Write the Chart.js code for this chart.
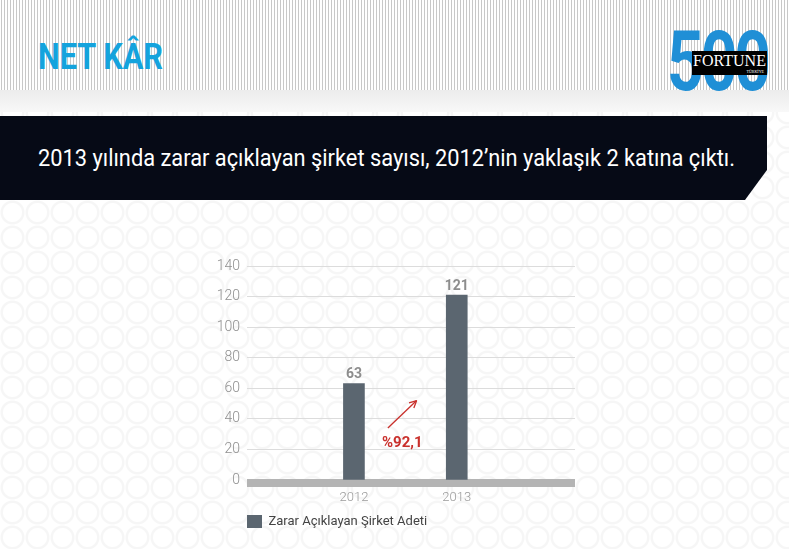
<!DOCTYPE html>
<html>
<head>
<meta charset="utf-8">
<script src="https://cdn.jsdelivr.net/npm/chart.js@4/dist/chart.umd.min.js"></script>
<style>
  html, body { margin: 0; padding: 0; }
  body {
    width: 789px; height: 549px; position: relative; overflow: hidden;
    background-color: #fff;
    background-image: radial-gradient(circle, rgba(0,0,0,0) 9px, #f6f6f6 10px, #f6f6f6 11.5px, rgba(0,0,0,0) 12.5px);
    background-size: 25px 25px;
    font-family: "Roboto", sans-serif;
  }
  #stripes {
    position: absolute; left: 0; top: 0; width: 789px; height: 90px;
    background: repeating-linear-gradient(90deg, #fff 0 1px, #c8c8c8 1px 2px, #fff 2px 3px);
  }
  #stripes2 {
    position: absolute; left: 0; top: 90px; width: 789px; height: 22px;
    background: linear-gradient(#ececec, #f8f8f8);
  }
  .fit { position: absolute; white-space: nowrap; transform-origin: 0 0; }
  #title { left: 38px; top: 36px; font: bold 36px "Roboto", sans-serif; color: #14a3dd; }
  #logoNum { left: 667px; top: 12px; font: bold 84px "Roboto", sans-serif; color: #1f8fd6; letter-spacing: -4px; }
  #logoBox {
    position: absolute; left: 692px; top: 51px; width: 75px; height: 24px; background: #000;
    color: #fff; font: 16px "Liberation Serif", serif; text-align: center; line-height: 20px;
  }
  #logoBox small { position: absolute; right: 3px; bottom: 1px; font-size: 4px; line-height: 5px; }
  #banner {
    position: absolute; left: 0; top: 116px; width: 767px; height: 84px; background: #060a16;
    clip-path: polygon(0 0, 767px 0, 767px 54px, 745px 84px, 0 84px);
  }
  #bannerText { left: 38px; top: 29px; font: 23px "Roboto", sans-serif; color: #fff; }
  #chartBox { position: absolute; left: 200px; top: 250px; width: 400px; height: 288px; }
</style>
</head>
<body>
<div id="stripes"></div>
<div id="stripes2"></div>
<div id="title" class="fit" data-w="125">NET KÂR</div>
<div id="logoNum" class="fit" data-w="101">500</div>
<div id="logoBox">FORTUNE<small>TÜRKİYE</small></div>
<div id="banner"><div id="bannerText" class="fit" data-w="697">2013 yılında zarar açıklayan şirket sayısı, 2012’nin yaklaşık 2 katına çıktı.</div></div>
<div id="chartBox"><canvas id="chart" width="400" height="288"></canvas></div>
<script>
const years = [2012, 2013];
const lossCounts = [63, 121];
const seriesName = 'Zarar Açıklayan Şirket Adeti';
const growthText = '%92,1';
// annotation anchors in data units: [x year, y value]
const growthLabelAt = [2012.47, 24];
const arrowFrom = [2012.33, 34];
const arrowTo = [2012.61, 52];

// squeeze condensed-looking headings to the reference widths
document.querySelectorAll('.fit').forEach(el => {
  const w = el.getBoundingClientRect().width;
  el.style.transform = 'scaleX(' + (el.dataset.w / w) + ')';
});

const zeroBar = {
  id: 'zeroBar',
  beforeDatasetsDraw(chart) {
    const { ctx, chartArea, scales } = chart;
    const y0 = scales.y.getPixelForValue(0);
    ctx.save();
    ctx.fillStyle = '#b4b4b4';
    ctx.fillRect(chartArea.left, y0 - 1, chartArea.right - chartArea.left, 8);
    ctx.restore();
  }
};

const valueLabels = {
  id: 'valueLabels',
  afterDatasetsDraw(chart) {
    const ctx = chart.ctx;
    const meta = chart.getDatasetMeta(0);
    ctx.save();
    ctx.font = 'bold 14px Roboto';
    ctx.fillStyle = '#8d8d8d';
    ctx.textAlign = 'center';
    ctx.textBaseline = 'bottom';
    meta.data.forEach((bar, i) => {
      ctx.fillText(lossCounts[i], bar.x, bar.y - 2);
    });
    ctx.restore();
  }
};

const growthNote = {
  id: 'growthNote',
  afterDatasetsDraw(chart) {
    const { ctx, scales } = chart;
    const px = p => [scales.x.getPixelForValue(p[0]), scales.y.getPixelForValue(p[1])];
    const [x1, y1] = px(arrowFrom);
    const [x2, y2] = px(arrowTo);
    ctx.save();
    ctx.strokeStyle = '#c9302c';
    ctx.fillStyle = '#c9302c';
    ctx.lineWidth = 1.3;
    ctx.beginPath();
    ctx.moveTo(x1, y1);
    ctx.lineTo(x2, y2);
    ctx.stroke();
    const a = Math.atan2(y2 - y1, x2 - x1);
    ctx.beginPath();
    ctx.moveTo(x2, y2);
    ctx.lineTo(x2 - 8 * Math.cos(a - 0.45), y2 - 8 * Math.sin(a - 0.45));
    ctx.moveTo(x2, y2);
    ctx.lineTo(x2 - 8 * Math.cos(a + 0.45), y2 - 8 * Math.sin(a + 0.45));
    ctx.stroke();
    const [tx, ty] = px(growthLabelAt);
    ctx.font = 'bold 15px Roboto';
    ctx.textAlign = 'center';
    ctx.textBaseline = 'middle';
    ctx.fillText(growthText, tx, ty);
    ctx.restore();
  }
};

new Chart(document.getElementById('chart').getContext('2d'), {
  type: 'bar',
  data: {
    datasets: [{
      label: seriesName,
      data: years.map((yr, i) => ({ x: yr, y: lossCounts[i] })),
      backgroundColor: '#5b6670',
      barThickness: 21
    }]
  },
  options: {
    responsive: false,
    animation: false,
    devicePixelRatio: 1,
    layout: { padding: { top: 16, right: 25, left: 0, bottom: 0 } },
    scales: {
      x: {
        type: 'linear',
        offset: false,
        min: 2010.96,
        max: 2014.15,
        grid: { display: false },
        border: { display: false },
        afterBuildTicks: scale => { scale.ticks = years.map(v => ({ value: v })); },
        afterFit: scale => { scale.height = 35; },
        ticks: {
          padding: 2,
          color: '#9a9a9a',
          font: { size: 13, family: 'Roboto', weight: '300' },
          callback: v => String(v)
        }
      },
      y: {
        min: 0,
        max: 140,
        afterFit: scale => { scale.width = 47; },
        grid: { color: '#dcdcdc', drawTicks: false },
        border: { display: false },
        ticks: {
          stepSize: 20,
          padding: 7,
          color: '#8f8f8f',
          font: { size: 14, family: 'Roboto', weight: '300' }
        }
      }
    },
    plugins: {
      legend: {
        position: 'bottom',
        align: 'start',
        fullSize: false,
        labels: {
          boxWidth: 15,
          boxHeight: 13,
          padding: 0,
          color: '#444',
          font: { size: 13, family: 'Roboto' }
        }
      },
      tooltip: { enabled: false }
    }
  },
  plugins: [zeroBar, valueLabels, growthNote]
});
</script>
</body>
</html>
